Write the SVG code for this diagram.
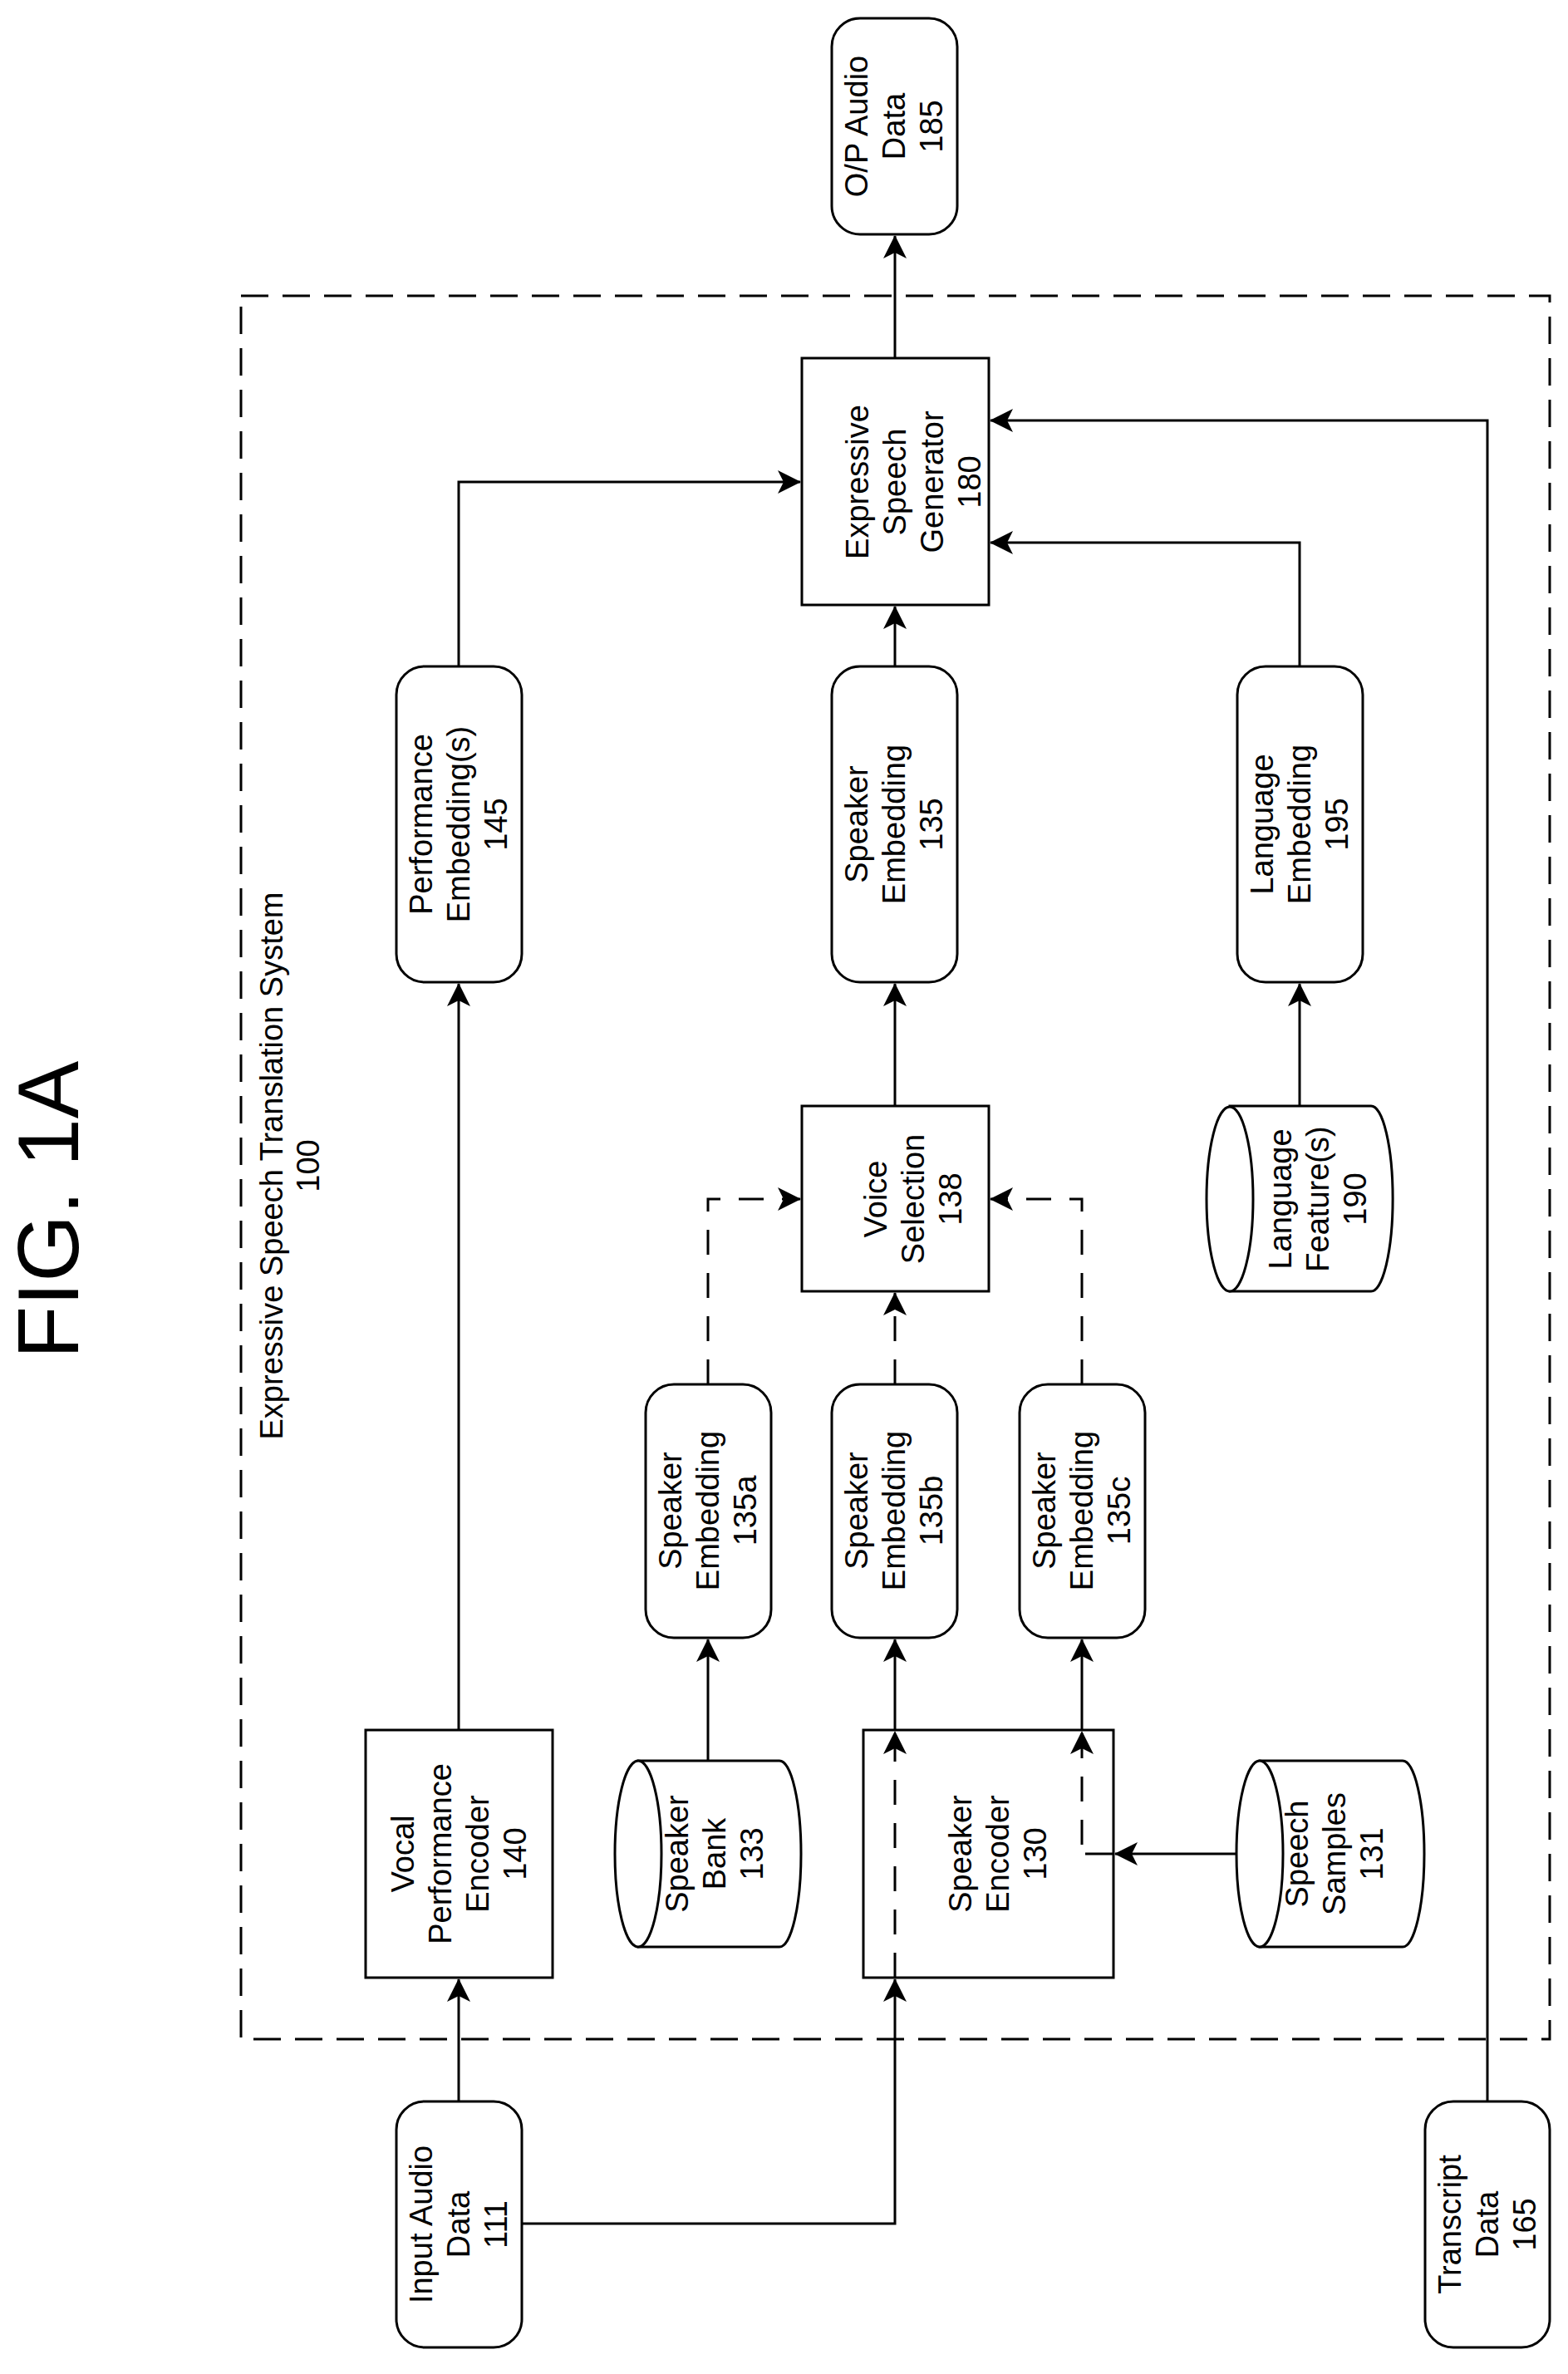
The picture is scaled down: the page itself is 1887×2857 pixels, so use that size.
<svg xmlns="http://www.w3.org/2000/svg" width="1887" height="2857" viewBox="0 0 1887 2857">
<style>
.b{fill:#fff;stroke:#000;stroke-width:3}
.t{font-family:"Liberation Sans",Arial,sans-serif;font-size:38px;fill:#000;text-anchor:middle}
.c{fill:none;stroke:#000;stroke-width:3}
.d{fill:none;stroke:#000;stroke-width:3;stroke-dasharray:30 22}
</style>
<defs>
<marker id="a" markerUnits="userSpaceOnUse" markerWidth="28" markerHeight="28" viewBox="0 0 28 28" refX="27" refY="14" orient="auto"><path d="M0,0 L28,14 L0,28 L7,14 Z" fill="#000"/></marker>
</defs>
<rect x="0" y="0" width="1887" height="2857" fill="#fff"/>
<text x="57" y="1456" transform="rotate(-90 57 1456)" dy="37" style="font-family:'Liberation Sans',Arial,sans-serif;font-size:104px;text-anchor:middle">FIG. 1A</text>
<g id="system">
<rect x="290" y="356" width="1575" height="2098" fill="none" stroke="#000" stroke-width="3" stroke-dasharray="33 17"/>
<text class="t" transform="translate(340 1403) rotate(-90)"><tspan x="0" y="0">Expressive Speech Translation System</tspan><tspan x="0" y="44">100</tspan></text>
</g>
<g id="connectors">
<path class="c" d="M1077,431 V284" marker-end="url(#a)"/>
<path class="c" d="M552,802 V580 H963" marker-end="url(#a)"/>
<path class="c" d="M1077,802 V730" marker-end="url(#a)"/>
<path class="c" d="M1564,802 V653 H1192" marker-end="url(#a)"/>
<path class="c" d="M1790,2529 V506 H1192" marker-end="url(#a)"/>
<path class="c" d="M1077,1331 V1184" marker-end="url(#a)"/>
<path class="c" d="M1564,1331 V1184" marker-end="url(#a)"/>
<path class="d" d="M852,1666 V1443 H963" marker-end="url(#a)"/>
<path class="d" d="M1077,1666 V1556" marker-end="url(#a)"/>
<path class="d" d="M1302,1666 V1443 H1192" marker-end="url(#a)"/>
<path class="c" d="M552,2082 V1184" marker-end="url(#a)"/>
<path class="c" d="M552,2529 V2382" marker-end="url(#a)"/>
<path class="c" d="M852,2119 V1973" marker-end="url(#a)"/>
<path class="c" d="M628,2676 H1077 V2382" marker-end="url(#a)"/>
<path class="d" d="M1077,2380 V2084" marker-end="url(#a)"/>
<path class="c" d="M1077,2082 V1973" marker-end="url(#a)"/>
<path class="d" d="M1302,2220 V2084" marker-end="url(#a)"/>
<path class="c" d="M1302,2082 V1973" marker-end="url(#a)"/>
<path class="c" d="M1488,2231 H1342" marker-end="url(#a)"/>
<path class="c" d="M1340,2231 H1306"/>
</g>
<g id="n185"><rect class="b" x="1001" y="22" width="151" height="260" rx="34"/>
<text class="t" transform="translate(1076 152) rotate(-90)"><tspan x="0" y="-32">O/P Audio</tspan><tspan x="0" y="13">Data</tspan><tspan x="0" y="58">185</tspan></text></g>
<g id="n180"><rect class="b" x="965" y="431" width="225" height="297"/>
<text class="t" transform="translate(1077 580) rotate(-90)"><tspan x="0" y="-32">Expressive</tspan><tspan x="0" y="13">Speech</tspan><tspan x="0" y="58">Generator</tspan><tspan x="0" y="103">180</tspan></text></g>
<g id="n145"><rect class="b" x="477" y="802" width="151" height="380" rx="34"/>
<text class="t" transform="translate(552 992) rotate(-90)"><tspan x="0" y="-32">Performance</tspan><tspan x="0" y="13">Embedding(s)</tspan><tspan x="0" y="58">145</tspan></text></g>
<g id="n135"><rect class="b" x="1001" y="802" width="151" height="380" rx="34"/>
<text class="t" transform="translate(1076 992) rotate(-90)"><tspan x="0" y="-32">Speaker</tspan><tspan x="0" y="13">Embedding</tspan><tspan x="0" y="58">135</tspan></text></g>
<g id="n195"><rect class="b" x="1489" y="802" width="151" height="380" rx="34"/>
<text class="t" transform="translate(1564 992) rotate(-90)"><tspan x="0" y="-32">Language</tspan><tspan x="0" y="13">Embedding</tspan><tspan x="0" y="58">195</tspan></text></g>
<g id="n138"><rect class="b" x="965" y="1331" width="225" height="223"/>
<text class="t" transform="translate(1077 1443) rotate(-90)"><tspan x="0" y="-10">Voice</tspan><tspan x="0" y="35">Selection</tspan><tspan x="0" y="80">138</tspan></text></g>
<g id="n190"><path class="b" d="M1480,1331 H1650 A26,111 0 0 1 1650,1554 H1480 Z"/><ellipse class="b" cx="1480" cy="1443" rx="28" ry="111"/>
<text class="t" transform="translate(1586 1443) rotate(-90)"><tspan x="0" y="-32">Language</tspan><tspan x="0" y="13">Feature(s)</tspan><tspan x="0" y="58">190</tspan></text></g>
<g id="n135a"><rect class="b" x="777" y="1666" width="151" height="305" rx="34"/>
<text class="t" transform="translate(852 1818) rotate(-90)"><tspan x="0" y="-32">Speaker</tspan><tspan x="0" y="13">Embedding</tspan><tspan x="0" y="58">135a</tspan></text></g>
<g id="n135b"><rect class="b" x="1001" y="1666" width="151" height="305" rx="34"/>
<text class="t" transform="translate(1076 1818) rotate(-90)"><tspan x="0" y="-32">Speaker</tspan><tspan x="0" y="13">Embedding</tspan><tspan x="0" y="58">135b</tspan></text></g>
<g id="n135c"><rect class="b" x="1227" y="1666" width="151" height="305" rx="34"/>
<text class="t" transform="translate(1302 1818) rotate(-90)"><tspan x="0" y="-32">Speaker</tspan><tspan x="0" y="13">Embedding</tspan><tspan x="0" y="58">135c</tspan></text></g>
<g id="n140"><rect class="b" x="440" y="2082" width="225" height="298"/>
<text class="t" transform="translate(552 2231) rotate(-90)"><tspan x="0" y="-54">Vocal</tspan><tspan x="0" y="-9">Performance</tspan><tspan x="0" y="36">Encoder</tspan><tspan x="0" y="81">140</tspan></text></g>
<g id="n133"><path class="b" d="M768,2119 H938 A26,112 0 0 1 938,2343 H768 Z"/><ellipse class="b" cx="768" cy="2231" rx="28" ry="112"/>
<text class="t" transform="translate(860 2231) rotate(-90)"><tspan x="0" y="-32">Speaker</tspan><tspan x="0" y="13">Bank</tspan><tspan x="0" y="58">133</tspan></text></g>
<g id="n130"><rect class="b" x="1039" y="2082" width="301" height="298" fill="none" style="fill:none"/>
<text class="t" transform="translate(1189 2231) rotate(-90)"><tspan x="0" y="-20">Speaker</tspan><tspan x="0" y="25">Encoder</tspan><tspan x="0" y="70">130</tspan></text></g>
<g id="n131"><path class="b" d="M1516,2119 H1688 A26,112 0 0 1 1688,2343 H1516 Z"/><ellipse class="b" cx="1516" cy="2231" rx="28" ry="112"/>
<text class="t" transform="translate(1606 2231) rotate(-90)"><tspan x="0" y="-32">Speech</tspan><tspan x="0" y="13">Samples</tspan><tspan x="0" y="58">131</tspan></text></g>
<g id="n111"><rect class="b" x="477" y="2529" width="151" height="296" rx="34"/>
<text class="t" transform="translate(552 2677) rotate(-90)"><tspan x="0" y="-32">Input Audio</tspan><tspan x="0" y="13">Data</tspan><tspan x="0" y="58">111</tspan></text></g>
<g id="n165"><rect class="b" x="1715" y="2529" width="150" height="296" rx="34"/>
<text class="t" transform="translate(1790 2677) rotate(-90)"><tspan x="0" y="-32">Transcript</tspan><tspan x="0" y="13">Data</tspan><tspan x="0" y="58">165</tspan></text></g>
</svg>
